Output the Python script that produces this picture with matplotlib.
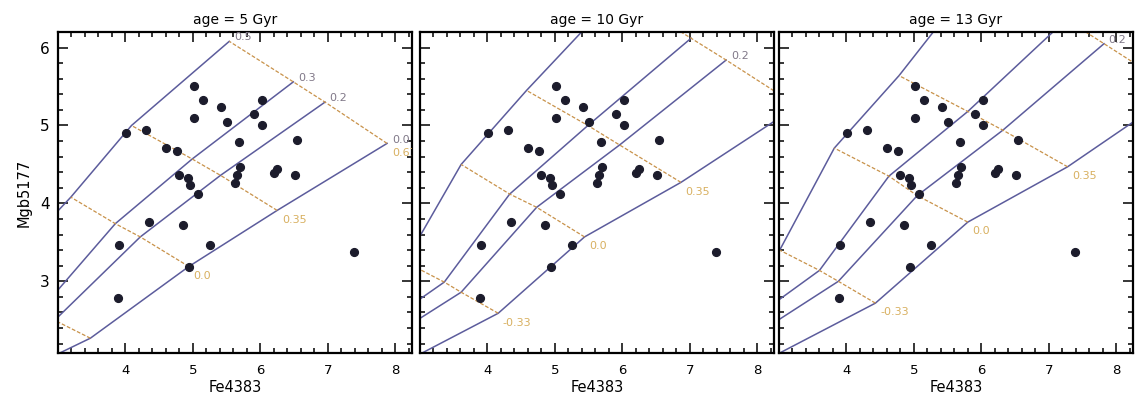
import matplotlib
matplotlib.use("Agg")
import matplotlib.pyplot as plt
from matplotlib.ticker import MultipleLocator, FixedLocator

# observed galaxies (same in every panel)
obs_fe = [4.01, 4.31, 4.60, 4.77, 5.02, 5.15, 5.01, 5.41, 5.50, 6.03, 5.91, 6.03,
          5.69, 6.54, 5.70, 5.66, 5.63, 4.80, 4.93, 4.96, 5.07, 6.20, 6.25, 6.52,
          4.35, 4.86, 3.91, 5.26, 4.94, 7.39, 3.89]
obs_mgb = [4.91, 4.94, 4.71, 4.67, 5.51, 5.33, 5.10, 5.24, 5.05, 5.33, 5.15, 5.01,
           4.79, 4.82, 4.47, 4.36, 4.26, 4.37, 4.33, 4.24, 4.12, 4.39, 4.44, 4.36,
           3.76, 3.72, 3.47, 3.46, 3.19, 3.37, 2.78]

# model grid: rows = [alpha/Fe], columns = [Z/H]
zh = [-1.35, -0.33, 0.0, 0.35, 0.67]
afe = [0.0, 0.2, 0.3, 0.5]
zh_names = ["-1.35", "-0.33", "0.0", "0.35", "0.67"]
afe_names = ["0.0", "0.2", "0.3", "0.5"]

ages = ["5", "10", "13"]

fe_5 = [[2.50, 3.48, 4.94, 6.25, 7.88],
        [2.30, 2.95, 4.22, 5.41, 6.96],
        [2.20, 2.72, 3.85, 4.99, 6.49],
        [1.50, 1.93, 3.19, 4.09, 5.54]]
mgb_5 = [[1.86, 2.27, 3.19, 3.91, 4.77],
         [1.95, 2.50, 3.57, 4.36, 5.30],
         [2.10, 2.61, 3.74, 4.57, 5.56],
         [2.40, 2.92, 4.08, 5.00, 6.08]]

fe_10 = [[2.50, 4.16, 5.44, 6.87, 8.60],
         [2.50, 3.61, 4.73, 5.96, 7.54],
         [2.50, 3.36, 4.33, 5.49, 7.02],
         [2.20, 2.78, 3.61, 4.58, 5.94]]
mgb_10 = [[1.84, 2.59, 3.57, 4.27, 5.25],
          [2.25, 2.86, 3.95, 4.75, 5.84],
          [2.47, 2.99, 4.12, 5.00, 6.12],
          [2.70, 3.25, 4.50, 5.45, 6.70]]

fe_13 = [[2.50, 4.43, 5.80, 7.28, 8.92],
         [2.50, 3.88, 5.05, 6.32, 7.82],
         [2.50, 3.60, 4.63, 5.80, 7.26],
         [2.50, 3.01, 3.82, 4.78, 6.05]]
mgb_13 = [[1.85, 2.72, 3.76, 4.47, 5.44],
          [2.23, 3.00, 4.10, 4.94, 6.05],
          [2.45, 3.14, 4.35, 5.18, 6.36],
          [3.00, 3.40, 4.71, 5.64, 7.04]]

grid_fe = [fe_5, fe_10, fe_13]
grid_mgb = [mgb_5, mgb_10, mgb_13]

# which grid labels are visible in each panel
alpha_labels = [["0.5", "0.3", "0.2", "0.0"], ["0.2"], ["0.2"]]
z_labels = [["0.67", "0.35", "0.0"], ["0.35", "0.0", "-0.33"], ["0.35", "0.0", "-0.33"]]

blue = "#5c5c9c"
orange = "#c8924a"

fig = plt.figure(figsize=(11.35, 3.99), dpi=100)
lefts = [58, 420, 779]
for i in range(3):
    ax = fig.add_axes([lefts[i] / 1135, 46 / 399, 354 / 1135, 321 / 399])
    fe = grid_fe[i]
    mgb = grid_mgb[i]

    # lines of constant [alpha/Fe]
    for a in range(len(afe)):
        ax.plot(fe[a], mgb[a], color=blue, lw=1.1, zorder=2)
    # lines of constant [Z/H]
    for z in range(1, len(zh)):
        ax.plot([fe[a][z] for a in range(len(afe))], [mgb[a][z] for a in range(len(afe))],
                color=orange, lw=0.9, ls=(0, (3, 1.5)), zorder=2)

    for a in range(len(afe)):
        if afe_names[a] in alpha_labels[i]:
            ax.text(fe[a][-1] + 0.07, mgb[a][-1] + 0.05, afe_names[a], fontsize=8,
                    color="#807888", ha="left", va="center", clip_on=True)
    for z in range(1, len(zh)):
        if zh_names[z] in z_labels[i]:
            ax.text(fe[0][z] + 0.07, mgb[0][z] - 0.12, zh_names[z], fontsize=8,
                    color="#d8b060", ha="left", va="center", clip_on=True)

    ax.plot(obs_fe, obs_mgb, "o", color="#1c1c2c", ms=5.6, zorder=3)

    ax.set_xlim(3.0, 8.25)
    ax.set_ylim(2.08, 6.2)
    ax.xaxis.set_major_locator(FixedLocator([4, 5, 6, 7, 8]))
    ax.xaxis.set_minor_locator(MultipleLocator(0.2))
    ax.yaxis.set_major_locator(MultipleLocator(1))
    ax.yaxis.set_minor_locator(MultipleLocator(0.2))
    ax.tick_params(which="both", direction="in", top=True, right=True, width=1.1)
    ax.tick_params(which="major", length=7)
    ax.tick_params(which="minor", length=3.5)
    ax.tick_params(axis="x", labelsize=9.5, pad=8)
    ax.tick_params(axis="y", labelsize=11, pad=6)
    for s in ax.spines.values():
        s.set_linewidth(1.6)
    ax.set_title("age = " + ages[i] + " Gyr", fontsize=10, pad=6)
    ax.set_xlabel("Fe4383", fontsize=10.5, labelpad=2)
    if i == 0:
        ax.set_ylabel("Mgb5177", fontsize=10.5, labelpad=6)
    else:
        ax.set_yticklabels([])

fig.savefig("out.png", dpi=100)
